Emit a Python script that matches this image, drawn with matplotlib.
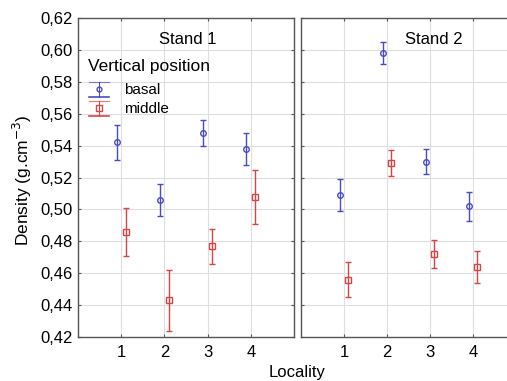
import matplotlib
matplotlib.use("Agg")
import matplotlib.pyplot as plt
from matplotlib.legend_handler import HandlerBase
from matplotlib.lines import Line2D
import numpy as np

plt.rcParams['font.family'] = ['Liberation Sans', 'DejaVu Sans']

localities = [1, 2, 3, 4]
stand1_basal = [0.542, 0.506, 0.548, 0.538]
stand1_basal_err = [0.011, 0.010, 0.008, 0.010]
stand1_middle = [0.486, 0.443, 0.477, 0.508]
stand1_middle_err = [0.015, 0.019, 0.011, 0.017]
stand2_basal = [0.509, 0.598, 0.530, 0.502]
stand2_basal_err = [0.010, 0.007, 0.008, 0.009]
stand2_middle = [0.456, 0.529, 0.472, 0.464]
stand2_middle_err = [0.011, 0.008, 0.009, 0.010]
yticks = [0.42, 0.44, 0.46, 0.48, 0.50, 0.52, 0.54, 0.56, 0.58, 0.60, 0.62]

blue = '#4a4ac8'
red = '#d84444'

fig = plt.figure(figsize=(5.07, 3.81), dpi=100)
ax1 = fig.add_axes([78/507, 44/381, 216/507, 319/381])
ax2 = fig.add_axes([301/507, 44/381, 215/507, 319/381])

x = np.array(localities, dtype=float)
off = 0.1

def draw(ax, b, be, m, me):
    ax.errorbar(x - off, b, yerr=be, fmt='o', color=blue, mfc='none', ms=4,
                mew=1.0, elinewidth=1.0, capsize=2, capthick=1.0)
    ax.errorbar(x + off, m, yerr=me, fmt='s', color=red, mfc='none', ms=5,
                mew=1.0, elinewidth=1.0, capsize=2, capthick=1.0)
    ax.set_xlim(0, 5)
    ax.set_ylim(0.42, 0.62)
    ax.set_xticks(localities)
    ax.set_xticklabels([str(v) for v in localities], fontsize=12)
    ax.set_yticks(yticks)
    ax.grid(True, color='#dedede', linewidth=0.8)
    ax.set_axisbelow(True)
    ax.tick_params(direction='in', length=2.5, width=0.8, top=True, right=True,
                   color='#555555', pad=6)
    for s in ax.spines.values():
        s.set_color('#555555')
        s.set_linewidth(1.0)

draw(ax1, stand1_basal, stand1_basal_err, stand1_middle, stand1_middle_err)
draw(ax2, stand2_basal, stand2_basal_err, stand2_middle, stand2_middle_err)

ax1.set_yticklabels([f"{v:.2f}".replace('.', ',') for v in yticks], fontsize=12)
ax1.tick_params(axis='y', pad=4)
ax2.set_yticklabels([])

ax1.text(2.53, 0.6065, 'Stand 1', ha='center', va='center', fontsize=12)
ax2.text(3.1, 0.6065, 'Stand 2', ha='center', va='center', fontsize=12)


class ErrHandler(HandlerBase):
    def __init__(self, color, marker, ms):
        super().__init__()
        self.color = color
        self.marker = marker
        self.ms = ms

    def create_artists(self, legend, orig_handle, xdescent, ydescent,
                       width, height, fontsize, trans):
        cx = width / 2 - xdescent
        top = height * 1.15 - ydescent
        bot = -height * 0.25 - ydescent
        cy = height / 2 - ydescent
        arts = [
            Line2D([cx, cx], [bot, top], color=self.color, lw=0.8, transform=trans),
            Line2D([0 - xdescent, width - xdescent], [top, top], color=self.color,
                   lw=0.8, alpha=0.7, transform=trans),
            Line2D([0 - xdescent, width - xdescent], [bot, bot], color=self.color,
                   lw=1.2, transform=trans),
            Line2D([cx], [cy], marker=self.marker, ms=self.ms, mfc='none',
                   mec=self.color, mew=1.0, linestyle='none', transform=trans),
        ]
        return arts


hb = Line2D([], [], color=blue)
hm = Line2D([], [], color=red)
ax1.legend([hb, hm], ['basal', 'middle'], loc='upper left',
           bbox_to_anchor=((89 - 78) / 216, (337 - 83) / 319), frameon=False,
           fontsize=11, handlelength=1.3, handletextpad=1.0, borderpad=0.0,
           borderaxespad=0.0, labelspacing=0.35,
           handler_map={hb: ErrHandler(blue, 'o', 3.5), hm: ErrHandler(red, 's', 4)})
ax1.text((88 - 78) / 216, (337 - 67) / 319, 'Vertical position', transform=ax1.transAxes,
         ha='left', va='center', fontsize=12.5)

fig.text(22/507, (381-180)/381, 'Density (g.cm$^{-3}$)', rotation=90,
         ha='center', va='center', fontsize=12.5)
fig.text(297/507, 8/381, 'Locality', ha='center', va='center', fontsize=12)

fig.savefig('out.png', dpi=100)
